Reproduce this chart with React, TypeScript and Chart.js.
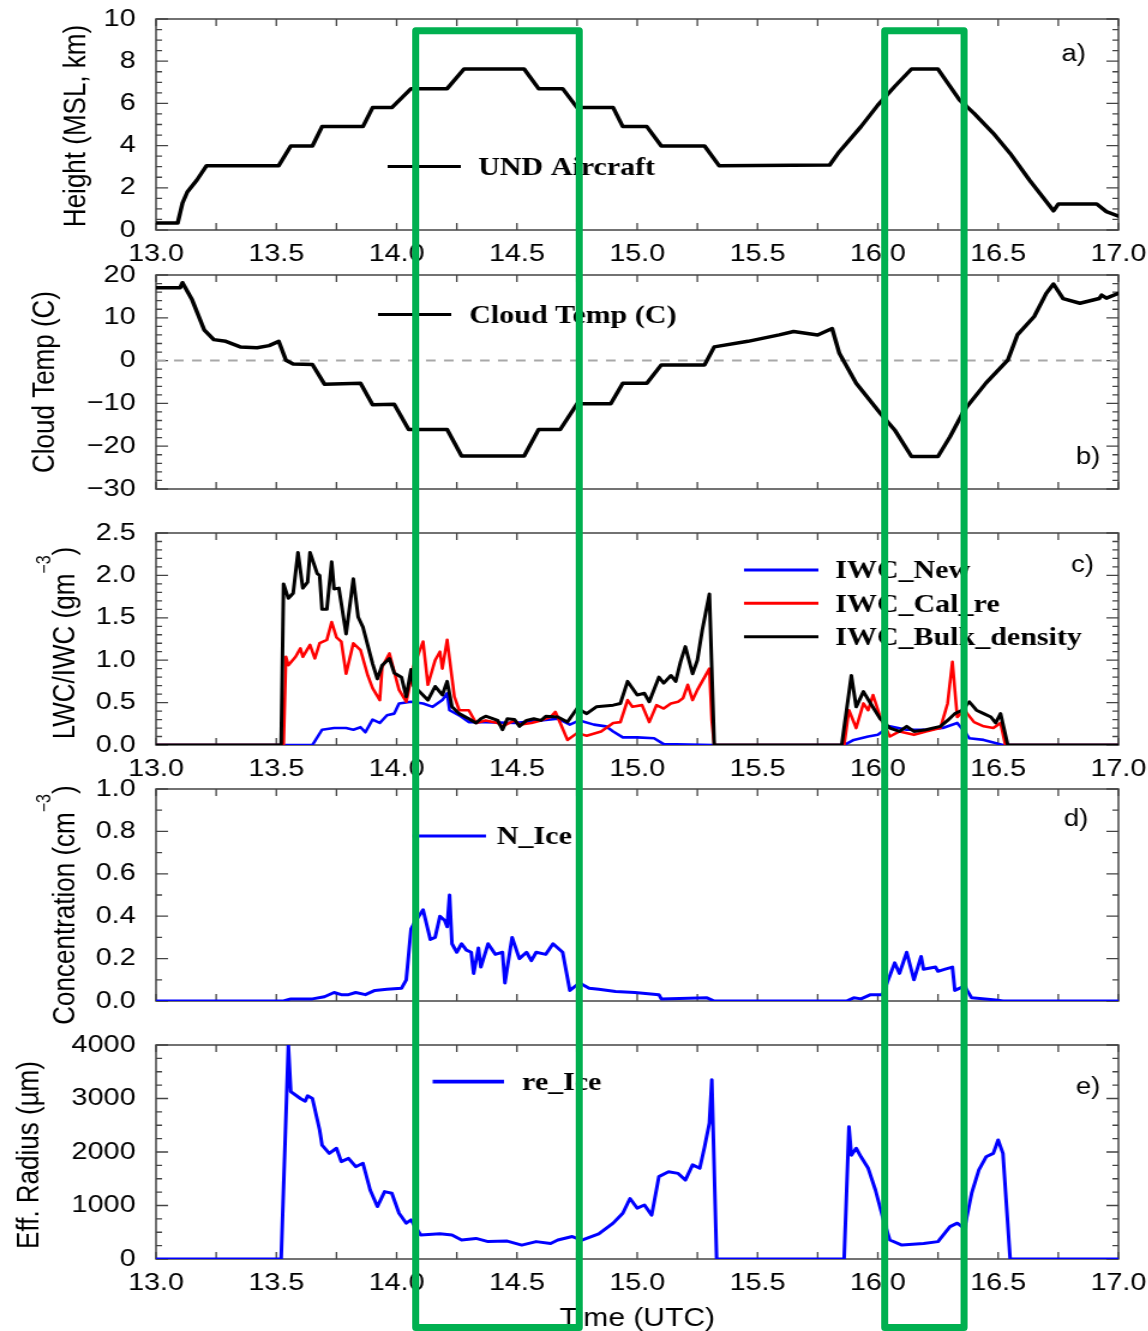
import React, { useEffect, useRef } from 'react';
import { Chart, registerables } from 'chart.js';

Chart.register(...registerables);

// ---------------- data (time in UTC hours) ----------------
const heightTime = [13.0, 13.09, 13.11, 13.13, 13.17, 13.21, 13.51, 13.56, 13.65, 13.69, 13.86, 13.9, 13.98, 14.06, 14.21, 14.28, 14.53, 14.59, 14.69, 14.75, 14.9, 14.94, 15.04, 15.1, 15.28, 15.34, 15.8, 15.84, 15.93, 16.0, 16.07, 16.14, 16.25, 16.34, 16.4, 16.48, 16.55, 16.63, 16.73, 16.75, 16.91, 16.95, 17.0];
const heightKm = [0.33, 0.33, 1.28, 1.8, 2.37, 3.05, 3.05, 3.98, 3.98, 4.9, 4.9, 5.8, 5.8, 6.7, 6.7, 7.63, 7.63, 6.7, 6.7, 5.8, 5.8, 4.9, 4.9, 3.98, 3.98, 3.05, 3.08, 3.71, 4.9, 5.92, 6.8, 7.63, 7.63, 6.16, 5.53, 4.58, 3.63, 2.37, 0.91, 1.23, 1.23, 0.87, 0.66];

const tempTime = [13.0, 13.1, 13.11, 13.15, 13.2, 13.24, 13.29, 13.35, 13.42, 13.47, 13.51, 13.54, 13.57, 13.65, 13.7, 13.85, 13.9, 13.99, 14.05, 14.21, 14.27, 14.53, 14.59, 14.68, 14.75, 14.89, 14.94, 15.04, 15.1, 15.28, 15.32, 15.46, 15.59, 15.65, 15.75, 15.81, 15.84, 15.91, 16.01, 16.07, 16.14, 16.25, 16.3, 16.36, 16.45, 16.54, 16.58, 16.65, 16.7, 16.73, 16.77, 16.84, 16.92, 16.93, 16.95, 17.0];
const tempC = [17.0, 17.0, 18.2, 14.2, 7.2, 4.9, 4.5, 3.2, 3.0, 3.5, 4.5, 0.1, -0.8, -0.9, -5.5, -5.3, -10.3, -10.2, -16.1, -16.1, -22.3, -22.3, -16.1, -16.1, -10.1, -10.1, -5.3, -5.3, -1.0, -1.0, 3.2, 4.5, 6.0, 6.8, 6.0, 7.5, 1.7, -5.3, -12.3, -16.2, -22.4, -22.4, -17.8, -11.5, -5.2, 0.1, 6.0, 10.3, 15.7, 17.9, 14.5, 13.4, 14.5, 15.3, 14.6, 15.7];
const zeroLineTime = [13.0, 17.0];
const zeroLineC = [0, 0];

const bulkTime = [13.0, 13.52, 13.53, 13.55, 13.57, 13.59, 13.61, 13.63, 13.64, 13.67, 13.68, 13.69, 13.71, 13.73, 13.74, 13.76, 13.79, 13.82, 13.84, 13.86, 13.9, 13.92, 13.94, 13.97, 13.99, 14.02, 14.04, 14.06, 14.07, 14.13, 14.16, 14.19, 14.21, 14.23, 14.26, 14.3, 14.33, 14.35, 14.37, 14.42, 14.44, 14.46, 14.49, 14.51, 14.54, 14.57, 14.6, 14.62, 14.67, 14.71, 14.75, 14.79, 14.83, 14.9, 14.93, 14.96, 15.0, 15.03, 15.05, 15.09, 15.11, 15.14, 15.16, 15.18, 15.2, 15.23, 15.25, 15.27, 15.3, 15.32, 15.85, 15.89, 15.91, 15.94, 15.97, 16.01, 16.05, 16.09, 16.12, 16.15, 16.2, 16.26, 16.29, 16.32, 16.35, 16.38, 16.41, 16.44, 16.47, 16.49, 16.51, 16.54, 17.0];
const iwcBulk = [0, 0, 1.9, 1.73, 1.79, 2.27, 1.85, 1.92, 2.27, 2.02, 2.0, 1.6, 1.6, 2.16, 1.84, 1.85, 1.31, 1.96, 1.51, 1.39, 0.96, 0.78, 0.94, 1.02, 0.85, 0.8, 0.57, 0.89, 0.7, 0.53, 0.69, 0.59, 0.75, 0.45, 0.37, 0.31, 0.26, 0.31, 0.34, 0.29, 0.18, 0.31, 0.3, 0.22, 0.29, 0.31, 0.29, 0.34, 0.33, 0.27, 0.43, 0.37, 0.45, 0.47, 0.49, 0.75, 0.59, 0.61, 0.51, 0.8, 0.73, 0.82, 0.75, 0.98, 1.16, 0.84, 1.0, 1.35, 1.78, 0, 0, 0.82, 0.45, 0.63, 0.49, 0.31, 0.2, 0.16, 0.22, 0.16, 0.18, 0.22, 0.29, 0.37, 0.41, 0.51, 0.41, 0.37, 0.33, 0.26, 0.37, 0, 0];

const calTime = [13.0, 13.53, 13.54, 13.55, 13.58, 13.6, 13.61, 13.64, 13.66, 13.68, 13.71, 13.73, 13.75, 13.77, 13.79, 13.82, 13.85, 13.88, 13.9, 13.93, 13.94, 13.97, 14.01, 14.04, 14.07, 14.11, 14.13, 14.16, 14.18, 14.19, 14.21, 14.24, 14.26, 14.3, 14.33, 14.37, 14.42, 14.44, 14.49, 14.51, 14.56, 14.6, 14.64, 14.66, 14.68, 14.71, 14.75, 14.79, 14.85, 14.9, 14.93, 14.96, 14.98, 15.02, 15.05, 15.08, 15.11, 15.14, 15.17, 15.19, 15.21, 15.23, 15.25, 15.3, 15.31, 15.32, 15.86, 15.88, 15.91, 15.94, 15.96, 15.98, 16.01, 16.05, 16.09, 16.15, 16.2, 16.26, 16.29, 16.31, 16.33, 16.36, 16.4, 16.44, 16.48, 16.51, 16.53, 17.0];
const iwcCal = [0, 0, 1.04, 0.94, 1.04, 1.14, 1.04, 1.18, 1.02, 1.2, 1.24, 1.45, 1.27, 1.22, 0.84, 1.2, 1.12, 0.82, 0.67, 0.53, 0.92, 1.08, 0.65, 0.51, 0.92, 1.22, 0.71, 1.0, 1.1, 0.9, 1.24, 0.57, 0.41, 0.41, 0.26, 0.29, 0.26, 0.22, 0.29, 0.24, 0.26, 0.29, 0.33, 0.39, 0.26, 0.06, 0.14, 0.11, 0.16, 0.26, 0.27, 0.53, 0.45, 0.47, 0.27, 0.47, 0.43, 0.49, 0.51, 0.55, 0.71, 0.53, 0.65, 0.9, 0.29, 0, 0, 0.41, 0.2, 0.49, 0.41, 0.59, 0.33, 0.1, 0.16, 0.12, 0.16, 0.2, 0.49, 0.98, 0.33, 0.41, 0.27, 0.22, 0.2, 0.26, 0, 0];

const newTime = [13.0, 13.65, 13.69, 13.74, 13.79, 13.82, 13.85, 13.87, 13.9, 13.93, 13.96, 13.99, 14.01, 14.06, 14.11, 14.15, 14.19, 14.21, 14.22, 14.26, 14.3, 14.37, 14.49, 14.6, 14.67, 14.72, 14.76, 14.82, 14.87, 14.9, 14.94, 15.0, 15.07, 15.11, 15.32, 15.86, 15.9, 15.96, 16.0, 16.05, 16.12, 16.2, 16.27, 16.33, 16.36, 16.38, 16.44, 16.52, 17.0];
const iwcNew = [0, 0, 0.18, 0.2, 0.2, 0.18, 0.21, 0.15, 0.3, 0.26, 0.35, 0.37, 0.49, 0.51, 0.49, 0.45, 0.53, 0.61, 0.41, 0.35, 0.27, 0.27, 0.26, 0.29, 0.31, 0.24, 0.29, 0.24, 0.22, 0.16, 0.09, 0.09, 0.08, 0.01, 0, 0, 0.06, 0.1, 0.12, 0.22, 0.18, 0.18, 0.2, 0.26, 0.16, 0.08, 0.06, 0, 0];

const nIceTime = [13.0, 13.53, 13.56, 13.65, 13.7, 13.74, 13.77, 13.8, 13.83, 13.87, 13.91, 13.96, 14.02, 14.04, 14.06, 14.08, 14.11, 14.14, 14.16, 14.18, 14.2, 14.21, 14.22, 14.23, 14.25, 14.27, 14.29, 14.31, 14.32, 14.34, 14.35, 14.38, 14.41, 14.44, 14.45, 14.48, 14.51, 14.54, 14.56, 14.58, 14.62, 14.65, 14.69, 14.72, 14.76, 14.8, 14.84, 14.91, 14.99, 15.09, 15.1, 15.29, 15.32, 15.87, 15.9, 15.93, 15.97, 16.02, 16.07, 16.09, 16.12, 16.15, 16.18, 16.19, 16.24, 16.25, 16.28, 16.31, 16.32, 16.36, 16.39, 16.49, 16.52, 17.0];
const nIce = [0, 0, 0.01, 0.01, 0.02, 0.04, 0.03, 0.03, 0.04, 0.03, 0.05, 0.055, 0.06, 0.1, 0.34, 0.38, 0.43, 0.29, 0.3, 0.4, 0.38, 0.35, 0.5, 0.27, 0.23, 0.27, 0.24, 0.23, 0.13, 0.25, 0.16, 0.27, 0.22, 0.23, 0.085, 0.3, 0.2, 0.23, 0.19, 0.23, 0.22, 0.27, 0.23, 0.05, 0.085, 0.06, 0.055, 0.045, 0.04, 0.03, 0.01, 0.015, 0, 0, 0.015, 0.01, 0.03, 0.03, 0.18, 0.13, 0.23, 0.1, 0.21, 0.15, 0.16, 0.14, 0.15, 0.16, 0.05, 0.07, 0.015, 0.005, 0, 0];

const reTime = [13.0, 13.52, 13.55, 13.56, 13.6, 13.62, 13.63, 13.65, 13.68, 13.69, 13.72, 13.75, 13.77, 13.8, 13.83, 13.86, 13.89, 13.92, 13.95, 13.98, 14.01, 14.04, 14.06, 14.1, 14.18, 14.23, 14.27, 14.33, 14.38, 14.46, 14.52, 14.58, 14.64, 14.67, 14.73, 14.77, 14.84, 14.9, 14.94, 14.97, 15.0, 15.03, 15.06, 15.09, 15.13, 15.17, 15.2, 15.23, 15.26, 15.28, 15.3, 15.31, 15.33, 15.86, 15.88, 15.89, 15.91, 15.93, 15.96, 15.99, 16.02, 16.05, 16.1, 16.19, 16.25, 16.3, 16.33, 16.36, 16.39, 16.42, 16.45, 16.48, 16.5, 16.52, 16.55, 17.0];
const reIce = [0, 0, 4000, 3130, 3000, 2950, 3050, 3000, 2410, 2130, 1975, 2070, 1820, 1880, 1725, 1790, 1290, 980, 1260, 1230, 855, 670, 730, 450, 470, 450, 355, 385, 325, 335, 260, 325, 290, 355, 420, 355, 470, 670, 855, 1130, 950, 1010, 820, 1540, 1630, 1600, 1475, 1760, 1695, 2100, 2540, 3350, 0, 0, 2470, 1940, 2070, 1910, 1695, 1290, 790, 355, 260, 290, 325, 605, 670, 575, 1230, 1665, 1910, 1975, 2225, 1975, 0, 0];

// highlighted time windows (UTC hours)
const boxStart = [14.08, 16.03];
const boxEnd = [14.76, 16.36];

// ---------------- layout ----------------
const W = 1148;
const H = 1331;
const S = W / 957; // horizontal stretch of the drawing
const CW = 985; // canvas drawing width (extends past the clipped right edge)
const PLOT_LEFT = 130;
const PLOT_RIGHT = 932;
const SANS = "'Liberation Sans', Arial, Helvetica, sans-serif";
const SERIF = "'Liberation Serif', 'Times New Roman', serif";

const pts = (xs: number[], ys: number[]) => xs.map((x, i) => ({ x, y: ys[i] }));
const line = (data: any, color: string, width: number, extra: any = {}) => ({
  data, borderColor: color, borderWidth: width, pointRadius: 0, tension: 0,
  borderJoinStyle: 'round', borderCapStyle: 'round', ...extra,
});

type Leg = { label: string; color: string; lw: number; x0: number; x1: number; tx: number; y: number };
type Panel = {
  top: number; height: number; padTop: number; xHeight: number;
  yMin: number; yMax: number; yStep: number; yMinor: number;
  showX: boolean; fmt: (v: number) => string;
  datasets: any[]; legends: Leg[];
  tag: string; tagX: number; tagY: number;
  title: [string, boolean][]; titleX: number; titleY: number;
  xTitle?: { text: string; y: number };
};

const minus = (v: number, d: number) => (v < 0 ? '\u2212' : '') + Math.abs(v).toFixed(d);

const panels: Panel[] = [
  {
    top: -16, height: 291, padTop: 35, xHeight: 45,
    yMin: 0, yMax: 10, yStep: 2, yMinor: 0.5, showX: true, fmt: (v) => v.toFixed(0),
    datasets: [line(pts(heightTime, heightKm), '#000', 3.5)],
    legends: [{ label: 'UND Aircraft', color: '#000', lw: 3.2, x0: 323, x1: 384, tx: 398.5, y: 166.5 }],
    tag: 'a)', tagX: 884.5, tagY: 55,
    title: [['Height (MSL, km)', false]], titleX: 62, titleY: 126,
  },
  {
    top: 240, height: 284, padTop: 35, xHeight: 35,
    yMin: -30, yMax: 20, yStep: 10, yMinor: 2, showX: false, fmt: (v) => minus(v, 0),
    datasets: [
      line(pts(tempTime, tempC), '#000', 3.5),
      line(pts(zeroLineTime, zeroLineC), '#a8a8a8', 2, { borderDash: [8, 7], borderCapStyle: 'butt' }),
    ],
    legends: [{ label: 'Cloud Temp (C)', color: '#000', lw: 3.2, x0: 315, x1: 376, tx: 391, y: 314.5 }],
    tag: 'b)', tagX: 896.5, tagY: 458,
    title: [['Cloud Temp (C)', false]], titleX: 36, titleY: 382,
  },
  {
    top: 498, height: 292, padTop: 35, xHeight: 45,
    yMin: 0, yMax: 2.5, yStep: 0.5, yMinor: 0.1, showX: true, fmt: (v) => v.toFixed(1),
    datasets: [
      line(pts(bulkTime, iwcBulk), '#000', 3),
      line(pts(calTime, iwcCal), '#ff0000', 2.6),
      line(pts(newTime, iwcNew), '#0000ff', 2.6),
    ],
    legends: [
      { label: 'IWC_New', color: '#0000ff', lw: 3, x0: 620, x1: 682, tx: 696, y: 570 },
      { label: 'IWC_Cal_re', color: '#ff0000', lw: 3, x0: 620, x1: 682, tx: 696, y: 603.3 },
      { label: 'IWC_Bulk_density', color: '#000', lw: 3, x0: 620, x1: 682, tx: 696, y: 636.7 },
    ],
    tag: 'c)', tagX: 892.5, tagY: 566,
    title: [['LWC/IWC (gm', false], ['\u22123', true], [')', false]], titleX: 53, titleY: 643,
  },
  {
    top: 754, height: 282, padTop: 35, xHeight: 35,
    yMin: 0, yMax: 1.0, yStep: 0.2, yMinor: 0.1, showX: false, fmt: (v) => v.toFixed(1),
    datasets: [line(pts(nIceTime, nIce), '#0000ff', 3)],
    legends: [{ label: 'N_Ice', color: '#0000ff', lw: 3, x0: 344, x1: 405, tx: 414, y: 836 }],
    tag: 'd)', tagX: 886.5, tagY: 820,
    title: [['Concentration (cm', false], ['\u22123', true], [')', false]], titleX: 53, titleY: 905,
  },
  {
    top: 1010, height: 321, padTop: 35, xHeight: 72,
    yMin: 0, yMax: 4000, yStep: 1000, yMinor: 250, showX: true, fmt: (v) => v.toFixed(0),
    datasets: [line(pts(reTime, reIce), '#0000ff', 3)],
    legends: [{ label: 're_Ice', color: '#0000ff', lw: 3.8, x0: 360.5, x1: 420, tx: 435, y: 1081.7 }],
    tag: 'e)', tagX: 896.5, tagY: 1088,
    title: [['Eff. Radius (\u00b5m)', false]], titleX: 23, titleY: 1155,
    xTitle: { text: 'Time (UTC)', y: 1317 },
  },
];

function drawRotTitle(ctx: CanvasRenderingContext2D, parts: [string, boolean][], cx: number, cy: number, size: number) {
  ctx.save();
  ctx.translate(cx, cy);
  ctx.rotate(-Math.PI / 2);
  const mainFont = `${size}px ${SANS}`;
  const supFont = `${Math.round(size * 0.62)}px ${SANS}`;
  let total = 0;
  const widths = parts.map(([t, sup]) => {
    ctx.font = sup ? supFont : mainFont;
    const w = ctx.measureText(t).width;
    total += w;
    return w;
  });
  let x = -total / 2;
  const base = size * 0.358;
  ctx.fillStyle = '#000';
  ctx.textAlign = 'left';
  ctx.textBaseline = 'alphabetic';
  parts.forEach(([t, sup], i) => {
    ctx.font = sup ? supFont : mainFont;
    ctx.fillText(t, x, sup ? base - size * 0.716 - 2 : base);
    x += widths[i];
  });
  ctx.restore();
}

function decor(p: Panel) {
  return {
    id: 'decor',
    beforeDatasetsDraw(chart: any) {
      const { ctx, chartArea: a, scales } = chart;
      const xs = scales.x;
      const ys = scales.y;
      ctx.save();
      ctx.strokeStyle = '#444';
      ctx.lineWidth = 1.5;
      ctx.strokeRect(a.left, a.top, a.right - a.left, a.bottom - a.top);
      ctx.lineWidth = 1.3;
      ctx.beginPath();
      for (let i = 0; i <= 16; i++) {
        const px = xs.getPixelForValue(13 + i * 0.25);
        ctx.moveTo(px, a.bottom); ctx.lineTo(px, a.bottom - 7);
        ctx.moveTo(px, a.top); ctx.lineTo(px, a.top + 7);
      }
      const n = Math.round((p.yMax - p.yMin) / p.yMinor);
      for (let i = 0; i <= n; i++) {
        const v = p.yMin + i * p.yMinor;
        const r = v / p.yStep;
        const major = Math.abs(r - Math.round(r)) < 1e-6;
        const len = major ? 10 : 5;
        const py = ys.getPixelForValue(v);
        ctx.moveTo(a.left, py); ctx.lineTo(a.left + len, py);
        ctx.moveTo(a.right, py); ctx.lineTo(a.right - len, py);
      }
      ctx.stroke();
      ctx.restore();
    },
    afterDraw(chart: any) {
      const { ctx, chartArea: a } = chart;
      ctx.save();
      p.legends.forEach((l) => {
        const y = l.y - p.top;
        ctx.strokeStyle = l.color;
        ctx.lineWidth = l.lw;
        ctx.beginPath();
        ctx.moveTo(l.x0, y); ctx.lineTo(l.x1, y);
        ctx.stroke();
        ctx.fillStyle = '#000';
        ctx.font = `bold 25px ${SERIF}`;
        ctx.textAlign = 'left';
        ctx.textBaseline = 'alphabetic';
        ctx.fillText(l.label, l.tx, y + 8.3);
      });
      ctx.fillStyle = '#000';
      ctx.font = `23px ${SANS}`;
      ctx.textAlign = 'left';
      ctx.textBaseline = 'alphabetic';
      ctx.fillText(p.tag, p.tagX, p.tagY - p.top + 6);
      drawRotTitle(ctx, p.title, p.titleX, p.titleY - p.top, 26);
      if (p.xTitle) {
        ctx.font = `25px ${SANS}`;
        ctx.textAlign = 'center';
        ctx.fillText(p.xTitle.text, (a.left + a.right) / 2, p.xTitle.y - p.top + 9);
      }
      ctx.restore();
    },
  };
}

function buildConfig(p: Panel): any {
  return {
    type: 'line',
    data: { datasets: p.datasets },
    options: {
      responsive: false,
      animation: false,
      events: [],
      devicePixelRatio: 1,
      layout: { padding: { top: p.padTop, left: 0, right: CW - PLOT_RIGHT, bottom: 0 } },
      plugins: { legend: { display: false }, tooltip: { enabled: false } },
      scales: {
        x: {
          type: 'linear', min: 13, max: 17,
          afterFit: (s: any) => { s.height = p.xHeight; },
          grid: { display: false, drawTicks: false },
          border: { display: false },
          ticks: {
            display: p.showX, stepSize: 0.5, autoSkip: false, maxRotation: 0, minRotation: 0,
            padding: 10, color: '#000', font: { family: SANS, size: 24 },
            callback: (v: any) => Number(v).toFixed(1),
          },
        },
        y: {
          type: 'linear', min: p.yMin, max: p.yMax,
          afterFit: (s: any) => { s.width = PLOT_LEFT; },
          grid: { display: false, drawTicks: false },
          border: { display: false },
          ticks: {
            stepSize: p.yStep, padding: 17, color: '#000', font: { family: SANS, size: 24 },
            callback: (v: any) => p.fmt(Number(v)),
          },
        },
      },
    },
    plugins: [decor(p)],
  };
}

export default function App() {
  const refs = useRef<(HTMLCanvasElement | null)[]>([]);
  const overlayRef = useRef<HTMLCanvasElement | null>(null);

  useEffect(() => {
    const charts = panels.map((p, i) => new Chart(refs.current[i] as HTMLCanvasElement, buildConfig(p)));
    const oc = overlayRef.current;
    if (oc) {
      const octx = oc.getContext('2d') as CanvasRenderingContext2D;
      octx.clearRect(0, 0, W, H);
      const xs: any = charts[0].scales.x;
      octx.strokeStyle = '#00b050';
      octx.lineWidth = 7;
      octx.lineJoin = 'round';
      boxStart.forEach((t0, i) => {
        const x0 = xs.getPixelForValue(t0) * S;
        const x1 = xs.getPixelForValue(boxEnd[i]) * S;
        octx.strokeRect(x0, 30.7, x1 - x0, 1327.5 - 30.7);
      });
    }
    return () => charts.forEach((c) => c.destroy());
  }, []);

  return (
    <div style={{ position: 'absolute', left: 0, top: 0, width: W, height: H, background: '#fff', overflow: 'hidden' }}>
      {panels.map((p, i) => (
        <canvas
          key={i}
          ref={(el) => { refs.current[i] = el; }}
          width={CW}
          height={p.height}
          style={{ position: 'absolute', left: 0, top: p.top, width: CW * S, height: p.height }}
        />
      ))}
      <canvas
        ref={overlayRef}
        width={W}
        height={H}
        style={{ position: 'absolute', left: 0, top: 0, width: W, height: H, pointerEvents: 'none' }}
      />
    </div>
  );
}
